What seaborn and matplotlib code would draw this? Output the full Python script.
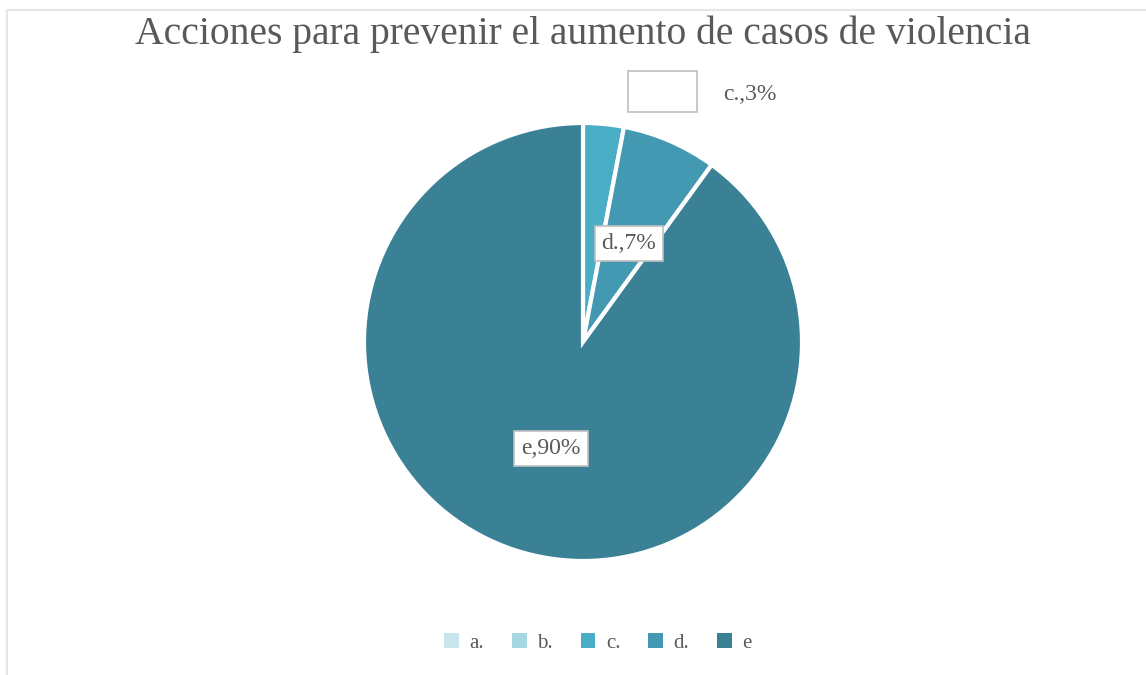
import numpy as np
import matplotlib
matplotlib.use("Agg")
import matplotlib.pyplot as plt
import seaborn as sns
from matplotlib.patches import Patch, Rectangle
from matplotlib.lines import Line2D

sns.set_theme(style="white")
plt.rcParams['font.family'] = ['Liberation Serif', 'DejaVu Serif']

# Datos del gráfico
categorias = ['a.', 'b.', 'c.', 'd.', 'e']
porcentajes = [0, 0, 3, 7, 90]
colores = ['#c6e5ec', '#a5d6e2', '#4aadc6', '#4299b1', '#3a8196']
titulo = 'Acciones para prevenir el aumento de casos de violencia'

W, H = 1146, 675
fig = plt.figure(figsize=(W / 100, H / 100), dpi=100)
fig.patch.set_facecolor('white')

# marco gris claro del área del gráfico
fig.add_artist(Line2D([7 / W, 7 / W], [0, 1 - 10 / H], transform=fig.transFigure,
                      color='#e6e6e6', lw=1.5))
fig.add_artist(Line2D([7 / W, 1], [1 - 10 / H, 1 - 10 / H], transform=fig.transFigure,
                      color='#e6e6e6', lw=1.5))

# ejes de la torta
cx, cy, r = 583, 342, 219
ax = fig.add_axes([(cx - r) / W, (H - cy - r) / H, 2 * r / W, 2 * r / H])
vals = [v for v in porcentajes if v > 0]
cols = [c for v, c in zip(porcentajes, colores) if v > 0]
ax.pie(vals, colors=cols, startangle=90, counterclock=False, radius=1,
       wedgeprops=dict(edgecolor='white', linewidth=3))
ax.set_xlim(-1, 1)
ax.set_ylim(-1, 1)
ax.set_aspect('equal')
ax.axis('off')

caja = dict(boxstyle='square,pad=0.3', facecolor='white', edgecolor='#bfbfbf', linewidth=1.2)
ax.text(0.605, 0.724, 'd.,7%', transform=ax.transAxes, ha='center', va='center',
        fontsize=17, color='#595959', bbox=caja)
ax.text(0.427, 0.256, 'e,90%', transform=ax.transAxes, ha='center', va='center',
        fontsize=17, color='#595959', bbox=caja)
ax.text(0.881, 1.064, 'c.,3%', transform=ax.transAxes, ha='center', va='center',
        fontsize=17, color='#595959', clip_on=False)
ax.add_patch(Rectangle((628 / W, 1 - 112 / H), 69 / W, 41 / H, transform=fig.transFigure,
                       facecolor='white', edgecolor='#bfbfbf', linewidth=1.2, clip_on=False))

fig.text(0.5 + 10 / W, 1 - 34 / H, titulo, ha='center', va='center', fontsize=28.5,
         color='#595959')

handles = [Patch(facecolor=c, edgecolor='none') for c in colores]
fig.legend(handles, categorias, loc='center', bbox_to_anchor=(0.5 + 25 / W, 1 - 643 / H),
           ncol=5, frameon=False, fontsize=15, handlelength=0.7, handleheight=0.7,
           columnspacing=1.35, handletextpad=0.5, labelcolor='#595959')

fig.savefig('out.png', dpi=100, facecolor='white')
